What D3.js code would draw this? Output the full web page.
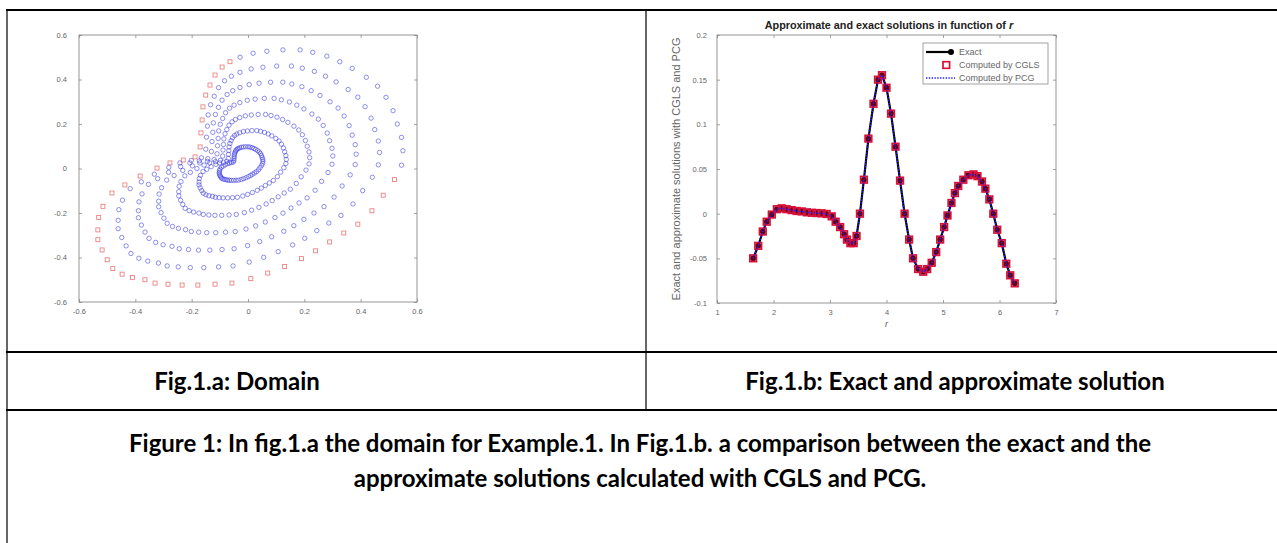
<!DOCTYPE html>
<html>
<head>
<meta charset="utf-8">
<script src="https://cdn.jsdelivr.net/npm/d3@7"></script>
<style>
  body { margin: 0; background: #fff; }
  svg { display: block; }
</style>
</head>
<body>
<svg id="page" width="1277" height="543"></svg>
<script>
// ---------- data: Fig.1.a domain ----------
// outer boundary markers (counter-clockwise from the notch)
const boundaryX = [-0.188, -0.23, -0.277, -0.323, -0.383, -0.437, -0.483, -0.515, -0.53, -0.533,
  -0.533, -0.518, -0.5, -0.48, -0.447, -0.41, -0.366, -0.33, -0.284, -0.234,
  -0.178, -0.117, -0.057, 0.01, 0.07, 0.13, 0.19, 0.24, 0.29, 0.34,
  0.39, 0.44, 0.48, 0.52, 0.545, 0.55, 0.545, 0.53, 0.515, 0.49,
  0.46, 0.42, 0.37, 0.326, 0.28, 0.23, 0.185, 0.124, 0.067, 0.018,
  -0.028, -0.064, -0.092, -0.117, -0.135, -0.15, -0.16, -0.163, -0.167, -0.17]
const boundaryY = [0.052, 0.038, 0.025, 0.002, -0.034, -0.074, -0.11, -0.17, -0.22, -0.276,
  -0.32, -0.366, -0.41, -0.45, -0.475, -0.49, -0.5, -0.515, -0.52, -0.524,
  -0.524, -0.52, -0.515, -0.495, -0.47, -0.44, -0.405, -0.37, -0.33, -0.29,
  -0.25, -0.19, -0.12, -0.05, 0.015, 0.08, 0.14, 0.2, 0.26, 0.32,
  0.37, 0.41, 0.45, 0.48, 0.505, 0.522, 0.533, 0.533, 0.527, 0.518,
  0.5, 0.48, 0.456, 0.42, 0.375, 0.33, 0.277, 0.218, 0.16, 0.097]
// boundary index ranges drawn as red squares (rest of the outer ring is blue)
const boundaryRed = [[0, 33], [51, 59]]
// interior rings: copies of the boundary shrunk toward this point
const domainCenter = [-0.03, 0.025]
const ringScale = [1, 0.857, 0.714, 0.571, 0.429, 0.286, 0.143]
const domainTicks = [-0.6, -0.4, -0.2, 0, 0.2, 0.4, 0.6]

// ---------- data: Fig.1.b solutions ----------
const rValues = [1.64, 1.73, 1.81, 1.88, 1.97, 2.06, 2.145, 2.23, 2.32, 2.41,
  2.5, 2.59, 2.68, 2.76, 2.85, 2.94, 3.03, 3.1, 3.18, 3.25,
  3.3, 3.36, 3.42, 3.47, 3.53, 3.6, 3.68, 3.77, 3.85, 3.92,
  4.0, 4.08, 4.16, 4.24, 4.32, 4.4, 4.47, 4.56, 4.65, 4.72,
  4.8, 4.88, 4.95, 5.02, 5.08, 5.15, 5.21, 5.27, 5.36, 5.45,
  5.54, 5.61, 5.69, 5.75, 5.82, 5.89, 5.96, 6.04, 6.12, 6.19, 6.27]
const exactValues = [-0.05, -0.036, -0.02, -0.009, -0.001, 0.005, 0.006, 0.005, 0.004, 0.003,
  0.0025, 0.0015, 0.001, 0.0007, 0.0004, -0.0003, -0.003, -0.009, -0.015, -0.023,
  -0.029, -0.033, -0.033, -0.025, 0.0, 0.038, 0.084, 0.123, 0.15, 0.155,
  0.141, 0.112, 0.075, 0.037, 0.0, -0.029, -0.05, -0.062, -0.065, -0.062,
  -0.055, -0.043, -0.029, -0.015, -0.002, 0.012, 0.023, 0.031, 0.038, 0.043,
  0.044, 0.042, 0.036, 0.028, 0.016, 0.0, -0.018, -0.033, -0.056, -0.069, -0.078]
const cglsValues = [-0.05, -0.036, -0.02, -0.009, -0.001, 0.005, 0.006, 0.005, 0.004, 0.003,
  0.0025, 0.0015, 0.001, 0.0007, 0.0004, -0.0003, -0.003, -0.009, -0.015, -0.023,
  -0.029, -0.033, -0.033, -0.025, 0.0, 0.038, 0.084, 0.123, 0.15, 0.155,
  0.141, 0.112, 0.075, 0.037, 0.0, -0.029, -0.05, -0.062, -0.065, -0.062,
  -0.055, -0.043, -0.029, -0.015, -0.002, 0.012, 0.023, 0.031, 0.038, 0.043,
  0.044, 0.042, 0.036, 0.028, 0.016, 0.0, -0.018, -0.033, -0.056, -0.069, -0.078]
const pcgValues = [-0.05, -0.036, -0.02, -0.009, -0.001, 0.005, 0.006, 0.005, 0.004, 0.003,
  0.0025, 0.0015, 0.001, 0.0007, 0.0004, -0.0003, -0.003, -0.009, -0.015, -0.023,
  -0.029, -0.033, -0.033, -0.025, 0.0, 0.038, 0.084, 0.123, 0.15, 0.155,
  0.141, 0.112, 0.075, 0.037, 0.0, -0.029, -0.05, -0.062, -0.065, -0.062,
  -0.055, -0.043, -0.029, -0.015, -0.002, 0.012, 0.023, 0.031, 0.038, 0.043,
  0.044, 0.042, 0.036, 0.028, 0.016, 0.0, -0.018, -0.033, -0.056, -0.069, -0.078]
const rTicks = [1, 2, 3, 4, 5, 6, 7]
const solTicks = [-0.1, -0.05, 0, 0.05, 0.1, 0.15, 0.2]
const legendLabels = ["Exact", "Computed by CGLS", "Computed by PCG"]

const captionA = "Fig.1.a: Domain"
const captionB = "Fig.1.b: Exact and approximate solution"
const figureCaption = ["Figure 1: In fig.1.a the domain for Example.1. In Fig.1.b. a comparison between the exact and the",
  "approximate solutions calculated with CGLS and PCG."]

const svg = d3.select("#page")
const axisFont = "Liberation Sans, Arial, sans-serif"
const axisGrey = "#8a8a8a"

// matlab-like box with inward ticks on all four sides
const drawBox = (g, x, y, xTicks, yTicks, padX, padY) => {
    const [left, right] = x.range()
    const [bottom, top] = y.range()
    const fmt = d => String(d)

    g.append("g").attr("transform", `translate(0,${bottom})`)
        .call(d3.axisBottom(x).tickValues(xTicks).tickFormat(fmt).tickSize(-3).tickSizeOuter(0).tickPadding(padX))
    g.append("g").attr("transform", `translate(0,${top})`)
        .call(d3.axisTop(x).tickValues(xTicks).tickFormat("").tickSize(-3).tickSizeOuter(0))
    g.append("g").attr("transform", `translate(${left},0)`)
        .call(d3.axisLeft(y).tickValues(yTicks).tickFormat(fmt).tickSize(-3).tickSizeOuter(0).tickPadding(padY))
    g.append("g").attr("transform", `translate(${right},0)`)
        .call(d3.axisRight(y).tickValues(yTicks).tickFormat("").tickSize(-3).tickSizeOuter(0))

    g.selectAll(".domain").remove()
    g.selectAll(".tick line").attr("stroke", axisGrey).attr("stroke-width", 0.8)
    g.selectAll(".tick text").attr("fill", "#666").style("font-family", axisFont).style("font-size", "7.5px")

    g.append("rect")
        .attr("x", left).attr("y", top)
        .attr("width", right - left).attr("height", bottom - top)
        .attr("fill", "none").attr("stroke", axisGrey).attr("stroke-width", 0.9)
}

// ---------- Fig.1.a ----------
const xA = d3.scaleLinear().domain([-0.6, 0.6]).range([79, 417])
const yA = d3.scaleLinear().domain([-0.6, 0.6]).range([302, 35])

const domainPts = []
ringScale.forEach((s, k) => {
    boundaryX.forEach((bx, i) => {
        const red = k === 0 && boundaryRed.some(([a, b]) => i >= a && i <= b)
        domainPts.push({
            x: domainCenter[0] + s * (bx - domainCenter[0]),
            y: domainCenter[1] + s * (boundaryY[i] - domainCenter[1]),
            red: red
        })
    })
})

const gA = svg.append("g")
gA.append("g").selectAll("circle")
    .data(domainPts.filter(d => !d.red))
    .enter().append("circle")
    .attr("cx", d => xA(d.x)).attr("cy", d => yA(d.y))
    .attr("r", 2.2)
    .attr("fill", "none").attr("stroke", "#2b2be0").attr("stroke-opacity", 0.65).attr("stroke-width", 0.8)
gA.append("g").selectAll("rect")
    .data(domainPts.filter(d => d.red))
    .enter().append("rect")
    .attr("x", d => xA(d.x) - 2).attr("y", d => yA(d.y) - 2)
    .attr("width", 4).attr("height", 4)
    .attr("fill", "none").attr("stroke", "#e23a3a").attr("stroke-opacity", 0.7).attr("stroke-width", 0.8)
drawBox(gA, xA, yA, domainTicks, domainTicks, 7, 12)

// ---------- Fig.1.b ----------
const xB = d3.scaleLinear().domain([1, 7]).range([717, 1056])
const yB = d3.scaleLinear().domain([-0.1, 0.2]).range([303, 35])
const sol = rValues.map((r, i) => ({ r: r, exact: exactValues[i], cgls: cglsValues[i], pcg: pcgValues[i] }))

const gB = svg.append("g")
drawBox(gB, xB, yB, rTicks, solTicks, 7, 10)

const lineOf = key => d3.line().x(d => xB(d.r)).y(d => yB(d[key]))
gB.append("path").datum(sol).attr("d", lineOf("exact"))
    .attr("fill", "none").attr("stroke", "#000").attr("stroke-width", 2.2)
gB.append("g").selectAll("circle").data(sol).enter().append("circle")
    .attr("cx", d => xB(d.r)).attr("cy", d => yB(d.exact)).attr("r", 3)
    .attr("fill", "#5a0018")
gB.append("g").selectAll("rect").data(sol).enter().append("rect")
    .attr("x", d => xB(d.r) - 3.3).attr("y", d => yB(d.cgls) - 3.3)
    .attr("width", 6.6).attr("height", 6.6)
    .attr("fill", "none").attr("stroke", "#d8103a").attr("stroke-width", 1.7)
gB.append("path").datum(sol).attr("d", lineOf("pcg"))
    .attr("fill", "none").attr("stroke", "#2020ff").attr("stroke-width", 1.4).attr("stroke-dasharray", "1.4,1.4")

// title and axis labels
const title = gB.append("text")
    .attr("x", 889).attr("y", 29)
    .attr("text-anchor", "middle")
    .style("font-family", axisFont).style("font-size", "10.8px").style("font-weight", "bold").attr("fill", "#222")
title.append("tspan").text("Approximate and exact solutions in function of ")
title.append("tspan").style("font-style", "italic").text("r")

gB.append("text")
    .attr("transform", `translate(680,${(yB.range()[0] + yB.range()[1]) / 2}) rotate(-90)`)
    .attr("text-anchor", "middle")
    .style("font-family", axisFont).style("font-size", "11px").attr("fill", "#666")
    .text("Exact and approximate solutions with CGLS and PCG")

gB.append("text")
    .attr("x", (xB.range()[0] + xB.range()[1]) / 2).attr("y", 327)
    .attr("text-anchor", "middle")
    .style("font-family", axisFont).style("font-size", "9px").style("font-style", "italic").attr("fill", "#555")
    .text("r")

// legend
const legend = gB.append("g").attr("transform", "translate(923,43)")
legend.append("rect").attr("width", 125).attr("height", 41)
    .attr("fill", "#fff").attr("stroke", axisGrey).attr("stroke-width", 0.8)
const rows = legend.selectAll(".row").data(legendLabels).enter().append("g")
    .attr("class", "row").attr("transform", (d, i) => `translate(0,${9 + i * 13})`)
rows.append("text").attr("x", 36).attr("dy", "0.35em")
    .style("font-family", axisFont).style("font-size", "9px").attr("fill", "#666")
    .text(d => d)
legend.append("line").attr("x1", 3).attr("x2", 30).attr("y1", 9).attr("y2", 9)
    .attr("stroke", "#000").attr("stroke-width", 2.2)
legend.append("circle").attr("cx", 28).attr("cy", 9).attr("r", 3).attr("fill", "#000")
legend.append("rect").attr("x", 20).attr("y", 22 - 3.3).attr("width", 6.6).attr("height", 6.6)
    .attr("fill", "none").attr("stroke", "#d8103a").attr("stroke-width", 1.7)
legend.append("line").attr("x1", 3).attr("x2", 32).attr("y1", 35).attr("y2", 35)
    .attr("stroke", "#2020ff").attr("stroke-width", 1.4).attr("stroke-dasharray", "1.4,1.4")

// ---------- table frame and captions ----------
const frame = svg.append("g").attr("stroke", "#000").attr("fill", "none")
const rowY = [10, 352, 410]
rowY.forEach(y => frame.append("line").attr("x1", 6).attr("x2", 1277).attr("y1", y).attr("y2", y).attr("stroke-width", 2))
frame.append("line").attr("x1", 7).attr("x2", 7).attr("y1", 9).attr("y2", 543).attr("stroke-width", 1.2)
frame.append("line").attr("x1", 646).attr("x2", 646).attr("y1", 10).attr("y2", 410).attr("stroke-width", 1.2)

const capFont = "Lato, 'Open Sans', sans-serif"
const capStyle = t => t.style("font-family", capFont).style("font-size", "24px").style("font-weight", "bold")
    .attr("text-anchor", "middle").attr("fill", "#000")
capStyle(svg.append("text").attr("x", 237).attr("y", 390).text(captionA))
capStyle(svg.append("text").attr("x", 955).attr("y", 390).text(captionB))
figureCaption.forEach((line, i) => {
    capStyle(svg.append("text").attr("x", 640).attr("y", 452 + i * 35).text(line))
})
</script>
</body>
</html>
